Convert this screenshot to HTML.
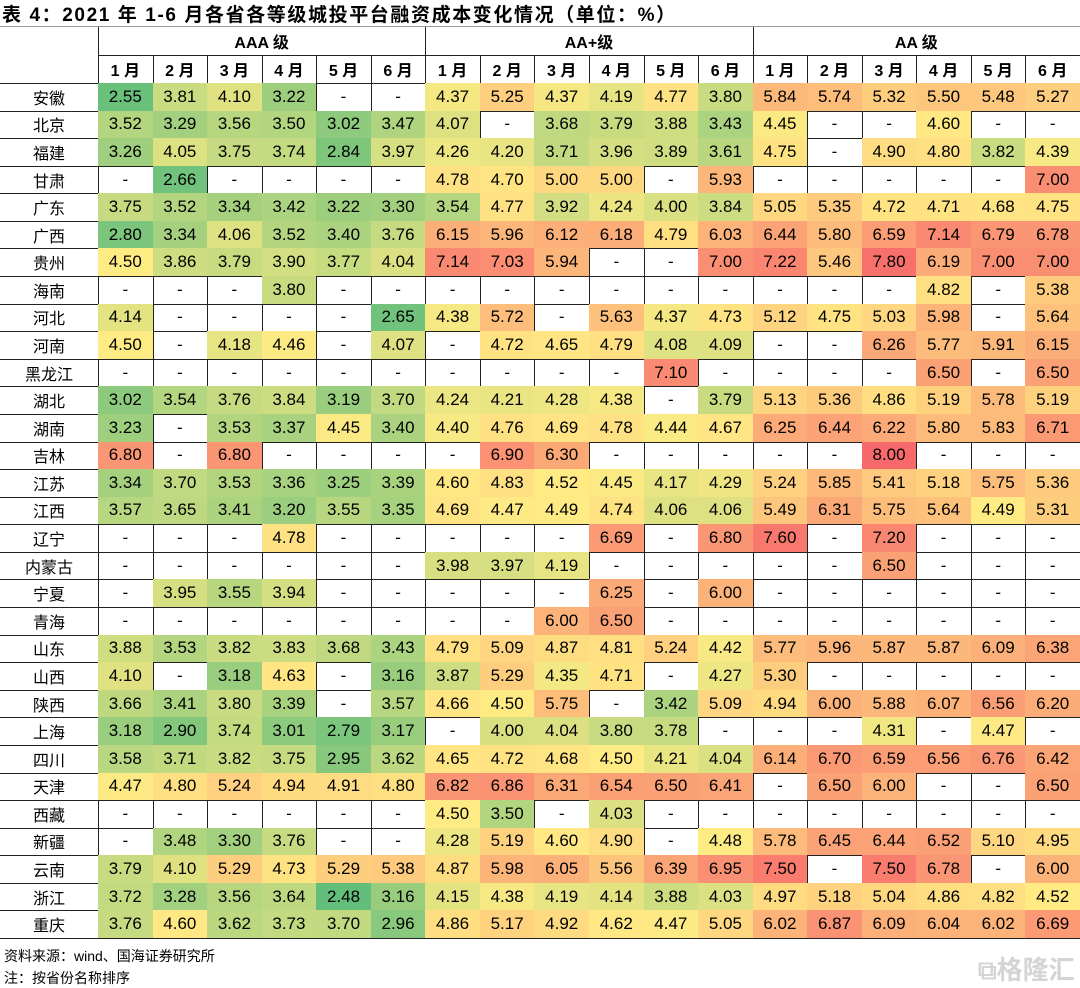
<!DOCTYPE html>
<html><head><meta charset="utf-8">
<style>
body{margin:0;background:#fff;width:1080px;height:983px;position:relative;overflow:hidden;font-family:"Liberation Sans","Noto Sans CJK SC",sans-serif;color:#000}
.c{position:absolute;box-sizing:border-box;display:flex;align-items:center;justify-content:center;border-right:1px solid #222;border-bottom:1px solid #222;font-size:17px}
.h{font-weight:bold;font-size:16px}
#title{position:absolute;left:2px;top:0px;font-size:19px;font-weight:bold;letter-spacing:1.6px}
#topline{position:absolute;left:0;top:26px;width:1080px;height:1px;background:#999}
.foot{position:absolute;left:4px;font-size:14px}
#wm{position:absolute;left:978px;top:950px;font-size:26px;color:#d4d4d4;font-weight:bold}
</style></head><body>
<div id="title">表 4：2021 年 1-6 月各省各等级城投平台融资成本变化情况（单位：%）</div>
<div id="topline"></div>
<div id="grid"></div>
<div class="foot" style="top:946px">资料来源：wind、国海证券研究所</div>
<div class="foot" style="top:968px">注：按省份名称排序</div>
<div id="wm">⧉格隆汇</div>
<script>
const grades = ["AAA 级","AA+级","AA 级"];
const months = ["1 月","2 月","3 月","4 月","5 月","6 月"];
const provinces = ["安徽","北京","福建","甘肃","广东","广西","贵州","海南","河北","河南","黑龙江","湖北","湖南","吉林","江苏","江西","辽宁","内蒙古","宁夏","青海","山东","山西","陕西","上海","四川","天津","西藏","新疆","云南","浙江","重庆"];
const values = [
"2.55 3.81 4.10 3.22 - - 4.37 5.25 4.37 4.19 4.77 3.80 5.84 5.74 5.32 5.50 5.48 5.27",
"3.52 3.29 3.56 3.50 3.02 3.47 4.07 - 3.68 3.79 3.88 3.43 4.45 - - 4.60 - -",
"3.26 4.05 3.75 3.74 2.84 3.97 4.26 4.20 3.71 3.96 3.89 3.61 4.75 - 4.90 4.80 3.82 4.39",
"- 2.66 - - - - 4.78 4.70 5.00 5.00 - 5.93 - - - - - 7.00",
"3.75 3.52 3.34 3.42 3.22 3.30 3.54 4.77 3.92 4.24 4.00 3.84 5.05 5.35 4.72 4.71 4.68 4.75",
"2.80 3.34 4.06 3.52 3.40 3.76 6.15 5.96 6.12 6.18 4.79 6.03 6.44 5.80 6.59 7.14 6.79 6.78",
"4.50 3.86 3.79 3.90 3.77 4.04 7.14 7.03 5.94 - - 7.00 7.22 5.46 7.80 6.19 7.00 7.00",
"- - - 3.80 - - - - - - - - - - - 4.82 - 5.38",
"4.14 - - - - 2.65 4.38 5.72 - 5.63 4.37 4.73 5.12 4.75 5.03 5.98 - 5.64",
"4.50 - 4.18 4.46 - 4.07 - 4.72 4.65 4.79 4.08 4.09 - - 6.26 5.77 5.91 6.15",
"- - - - - - - - - - 7.10 - - - - 6.50 - 6.50",
"3.02 3.54 3.76 3.84 3.19 3.70 4.24 4.21 4.28 4.38 - 3.79 5.13 5.36 4.86 5.19 5.78 5.19",
"3.23 - 3.53 3.37 4.45 3.40 4.40 4.76 4.69 4.78 4.44 4.67 6.25 6.44 6.22 5.80 5.83 6.71",
"6.80 - 6.80 - - - - 6.90 6.30 - - - - - 8.00 - - -",
"3.34 3.70 3.53 3.36 3.25 3.39 4.60 4.83 4.52 4.45 4.17 4.29 5.24 5.85 5.41 5.18 5.75 5.36",
"3.57 3.65 3.41 3.20 3.55 3.35 4.69 4.47 4.49 4.74 4.06 4.06 5.49 6.31 5.75 5.64 4.49 5.31",
"- - - 4.78 - - - - - 6.69 - 6.80 7.60 - 7.20 - - -",
"- - - - - - 3.98 3.97 4.19 - - - - - 6.50 - - -",
"- 3.95 3.55 3.94 - - - - - 6.25 - 6.00 - - - - - -",
"- - - - - - - - 6.00 6.50 - - - - - - - -",
"3.88 3.53 3.82 3.83 3.68 3.43 4.79 5.09 4.87 4.81 5.24 4.42 5.77 5.96 5.87 5.87 6.09 6.38",
"4.10 - 3.18 4.63 - 3.16 3.87 5.29 4.35 4.71 - 4.27 5.30 - - - - -",
"3.66 3.41 3.80 3.39 - 3.57 4.66 4.50 5.75 - 3.42 5.09 4.94 6.00 5.88 6.07 6.56 6.20",
"3.18 2.90 3.74 3.01 2.79 3.17 - 4.00 4.04 3.80 3.78 - - - 4.31 - 4.47 -",
"3.58 3.71 3.82 3.75 2.95 3.62 4.65 4.72 4.68 4.50 4.21 4.04 6.14 6.70 6.59 6.56 6.76 6.42",
"4.47 4.80 5.24 4.94 4.91 4.80 6.82 6.86 6.31 6.54 6.50 6.41 - 6.50 6.00 - - 6.50",
"- - - - - - 4.50 3.50 - 4.03 - - - - - - - -",
"- 3.48 3.30 3.76 - - 4.28 5.19 4.60 4.90 - 4.48 5.78 6.45 6.44 6.52 5.10 4.95",
"3.79 4.10 5.29 4.73 5.29 5.38 4.87 5.98 6.05 5.56 6.39 6.95 7.50 - 7.50 6.78 - 6.00",
"3.72 3.28 3.56 3.64 2.48 3.16 4.15 4.38 4.19 4.14 3.88 4.03 4.97 5.18 5.04 4.86 4.82 4.52",
"3.76 4.60 3.62 3.73 3.70 2.96 4.86 5.17 4.92 4.62 4.47 5.05 6.02 6.87 6.09 6.04 6.02 6.69"
];
const scale = [2.48, 4.5, 8.0];

const X0 = 98, CW = (1080 - 98) / 18, Y0 = 27, HH = 28, RH = (938 - 83) / 31;
const grid = document.getElementById('grid');
function lerp(a,b,t){return Math.round(a+(b-a)*t);}
function color(v){
  const g=[99,190,123], y=[255,235,132], r=[248,105,107];
  let a,b,t;
  if(v<=scale[1]){a=g;b=y;t=(v-scale[0])/(scale[1]-scale[0]);}
  else{a=y;b=r;t=(v-scale[1])/(scale[2]-scale[1]);}
  t=Math.max(0,Math.min(1,t));
  return `rgb(${lerp(a[0],b[0],t)},${lerp(a[1],b[1],t)},${lerp(a[2],b[2],t)})`;
}
function cell(x,y,w,h,text,cls){
  const d=document.createElement('div');
  d.className='c '+(cls||'');
  d.style.left=x+'px';d.style.top=y+'px';d.style.width=(w+1)+'px';d.style.height=(h+1)+'px';
  d.textContent=text;
  grid.appendChild(d);
  return d;
}
let corner=cell(0,Y0,X0,HH*2,'','h');


grades.forEach((g,gi)=>{
  const d=cell(X0+gi*6*CW,Y0,6*CW,HH,g,'h');
  
  
  months.forEach((m,mi)=>{
    const e=cell(X0+(gi*6+mi)*CW,Y0+HH,CW,HH,m,'h');
    
    
  });
});
provinces.forEach((p,ri)=>{
  const y=83+ri*RH;
  const pc=cell(0,y,X0,RH,p);
  pc.style.fontSize='16px';
  
  
  values[ri].split(' ').forEach((v,ci)=>{
    const c=cell(X0+ci*CW,y,CW,RH,v);
    if(v!=='-') c.style.background=color(parseFloat(v));
    
    
  });
});
</script>
</body></html>
